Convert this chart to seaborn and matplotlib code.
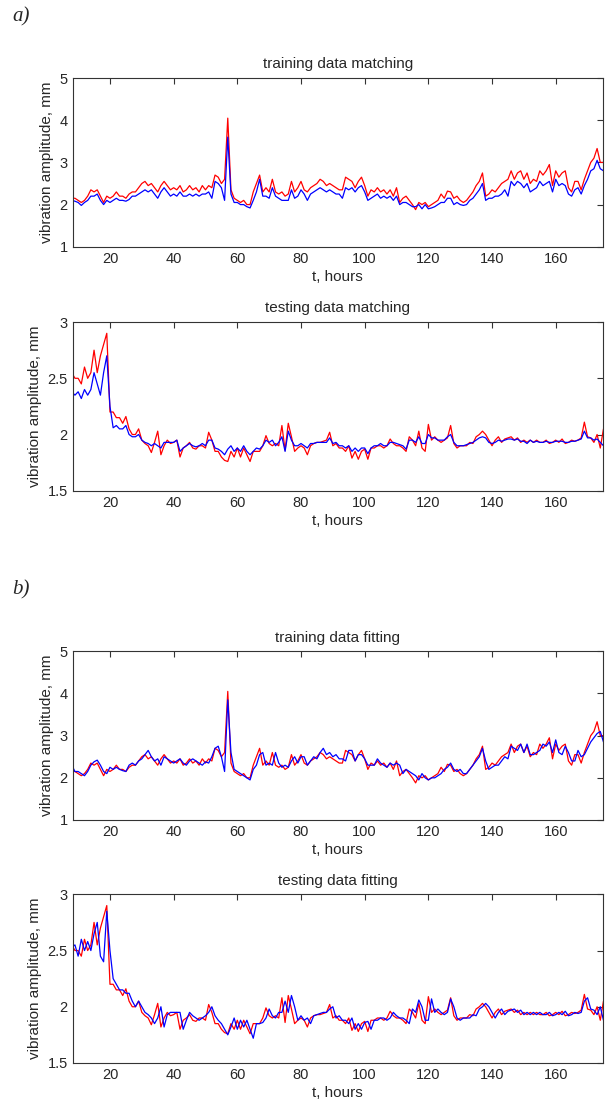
import matplotlib
matplotlib.use("Agg")
import matplotlib.pyplot as plt
import numpy as np
import seaborn as sns
import pandas as pd

# hours 8 .. 175
hours = list(range(8, 176))

# measured amplitude, training period (same curve in a) and b))
red_train = [
    2.15, 2.15, 2.1, 2.05, 2.1, 2.2, 2.35, 2.3, 2.35, 2.2,
    2.05, 2.2, 2.15, 2.2, 2.3, 2.2, 2.2, 2.15, 2.25, 2.3,
    2.3, 2.4, 2.5, 2.55, 2.45, 2.5, 2.4, 2.3, 2.45, 2.55,
    2.45, 2.35, 2.4, 2.35, 2.45, 2.3, 2.35, 2.45, 2.35, 2.4,
    2.3, 2.45, 2.35, 2.45, 2.4, 2.7, 2.65, 2.5, 2.6, 4.05,
    2.35, 2.15, 2.1, 2.05, 2.1, 2.0, 2.0, 2.3, 2.5, 2.7,
    2.3, 2.4, 2.3, 2.6, 2.3, 2.25, 2.3, 2.2, 2.25, 2.55,
    2.3, 2.4, 2.55, 2.35, 2.3, 2.4, 2.45, 2.5, 2.6, 2.55,
    2.45, 2.5, 2.45, 2.4, 2.35, 2.35, 2.65, 2.6, 2.55, 2.4,
    2.55, 2.65, 2.45, 2.2, 2.35, 2.3, 2.4, 2.3, 2.35, 2.25,
    2.35, 2.2, 2.4, 2.05, 2.15, 2.2, 2.1, 2.0, 1.88, 2.05,
    2.0, 2.05, 1.95, 2.0, 2.05, 2.1, 2.25, 2.15, 2.32, 2.3,
    2.15, 2.2, 2.1, 2.05, 2.1, 2.2, 2.3, 2.45, 2.55, 2.75,
    2.2, 2.25, 2.35, 2.3, 2.4, 2.5, 2.55, 2.6, 2.8, 2.6,
    2.75, 2.8, 2.6, 2.75, 2.5, 2.6, 2.55, 2.8, 2.7, 2.8,
    2.95, 2.45, 2.8, 2.65, 2.75, 2.8, 2.4, 2.3, 2.55, 2.55,
    2.35, 2.6, 2.8, 3.0, 3.1, 3.33, 3.0, 3.0,
]

blue_train_match = [
    2.1, 2.08, 2.05, 1.98, 2.05, 2.1, 2.2, 2.2, 2.25, 2.1,
    2.0, 2.1, 2.05, 2.1, 2.15, 2.1, 2.1, 2.08, 2.12, 2.2,
    2.2, 2.25, 2.3, 2.35, 2.3, 2.35, 2.25, 2.15, 2.3, 2.4,
    2.3, 2.2, 2.25, 2.2, 2.3, 2.2, 2.2, 2.25, 2.2, 2.25,
    2.2, 2.25, 2.25, 2.3, 2.15, 2.55, 2.5, 2.4, 2.1, 3.6,
    2.25, 2.05, 2.05, 2.0, 2.0, 1.95, 1.92, 2.1, 2.3, 2.6,
    2.2, 2.2, 2.15, 2.4, 2.2, 2.15, 2.1, 2.1, 2.1, 2.35,
    2.15, 2.2, 2.35, 2.25, 2.1, 2.25, 2.3, 2.35, 2.4, 2.35,
    2.3, 2.35, 2.3, 2.25, 2.25, 2.15, 2.4, 2.35, 2.4, 2.3,
    2.4, 2.45, 2.3, 2.1, 2.15, 2.2, 2.25, 2.15, 2.2, 2.15,
    2.2, 2.1, 2.2, 2.0, 2.05, 2.05, 2.0, 1.95, 1.95, 2.0,
    1.9, 2.0, 1.9, 1.92, 1.95, 2.0, 2.05, 2.05, 2.15, 2.15,
    2.0, 2.05, 2.0, 1.98, 2.0, 2.1, 2.15, 2.25, 2.35, 2.5,
    2.1, 2.15, 2.15, 2.2, 2.2, 2.25, 2.35, 2.2, 2.55, 2.45,
    2.55, 2.5, 2.4, 2.5, 2.3, 2.35, 2.4, 2.55, 2.45, 2.5,
    2.55, 2.3, 2.6, 2.45, 2.5, 2.45, 2.25, 2.2, 2.35, 2.4,
    2.25, 2.45, 2.6, 2.8, 2.85, 3.05, 2.85, 2.8,
]

blue_train_fit = [
    2.3, 2.15, 2.15, 2.1, 2.05, 2.15, 2.3, 2.38, 2.42, 2.3,
    2.15, 2.1, 2.25, 2.2, 2.25, 2.2, 2.17, 2.15, 2.3, 2.35,
    2.3, 2.4, 2.45, 2.55, 2.65, 2.5, 2.4, 2.45, 2.3, 2.5,
    2.45, 2.4, 2.35, 2.4, 2.45, 2.35, 2.3, 2.4, 2.45, 2.4,
    2.35, 2.3, 2.38, 2.35, 2.5, 2.7, 2.75, 2.5, 2.15, 3.85,
    2.6, 2.2, 2.15, 2.1, 2.05, 2.0, 1.95, 2.2, 2.3, 2.55,
    2.6, 2.3, 2.35, 2.3, 2.6, 2.35, 2.25, 2.3, 2.25, 2.4,
    2.5, 2.35, 2.5, 2.5, 2.3, 2.4, 2.5, 2.45, 2.6, 2.7,
    2.55, 2.6, 2.5, 2.55, 2.45, 2.45, 2.4, 2.65, 2.65, 2.4,
    2.55, 2.55, 2.45, 2.3, 2.3, 2.3, 2.45, 2.35, 2.3, 2.25,
    2.35, 2.3, 2.35, 2.3, 2.1, 2.2, 2.15, 2.1, 2.05, 1.95,
    2.1, 2.0, 1.95, 2.0, 2.0, 2.05, 2.1, 2.2, 2.25, 2.35,
    2.2, 2.15, 2.2, 2.1, 2.1, 2.2, 2.3, 2.4, 2.5, 2.7,
    2.4, 2.2, 2.25, 2.3, 2.3, 2.4, 2.5, 2.45, 2.75, 2.7,
    2.65, 2.8, 2.6, 2.8, 2.55, 2.55, 2.6, 2.65, 2.8, 2.75,
    2.85, 2.6, 2.9, 2.6, 2.55, 2.75, 2.6, 2.4, 2.4, 2.65,
    2.5, 2.55, 2.7, 2.85, 2.95, 3.05, 3.1, 2.85,
]

# measured amplitude, testing period (same curve in a) and b))
red_test = [
    2.55, 2.5, 2.5, 2.45, 2.6, 2.5, 2.55, 2.75, 2.55, 2.7,
    2.8, 2.9, 2.2, 2.2, 2.15, 2.15, 2.1, 2.16, 2.05, 2.0,
    2.0, 2.05, 1.95, 1.92, 1.9, 1.84, 1.93, 2.03, 1.82, 1.9,
    1.95, 1.92, 1.93, 1.95, 1.8, 1.88, 1.9, 1.93, 1.88, 1.87,
    1.9, 1.9, 1.88, 2.02, 1.95, 1.85, 1.85, 1.8, 1.77, 1.76,
    1.85, 1.8, 1.88, 1.8, 1.88, 1.82, 1.76, 1.85, 1.85, 1.85,
    1.9, 1.99, 1.92, 1.9, 1.92, 1.9, 2.08, 1.86, 2.1, 1.98,
    1.85, 1.88, 1.9, 1.88, 1.82, 1.9, 1.92, 1.93, 1.93, 1.94,
    1.95, 2.02, 1.9, 1.92, 1.88, 1.88, 1.85, 1.9, 1.79, 1.85,
    1.78, 1.85, 1.87, 1.78, 1.88, 1.88, 1.9, 1.9, 1.88, 1.9,
    1.96, 1.92, 1.9, 1.9, 1.88, 1.85, 1.98, 1.95, 1.9, 2.03,
    1.88, 1.85, 2.09, 1.95, 1.98, 1.95, 1.93, 1.95, 1.97, 2.08,
    1.92, 1.88, 1.9, 1.9, 1.9, 1.93, 1.92, 1.98, 2.0, 2.03,
    2.0, 1.95, 1.9, 1.95, 1.98, 1.93, 1.96, 1.97, 1.98, 1.95,
    1.97, 1.93, 1.95, 1.93, 1.95, 1.93, 1.95, 1.93, 1.93, 1.95,
    1.92, 1.93, 1.95, 1.93, 1.96, 1.92, 1.93, 1.95, 1.94, 1.95,
    1.97, 2.11, 1.98, 1.97, 1.93, 2.0, 1.88, 2.05,
]

blue_test_match = [
    2.38, 2.35, 2.38, 2.32, 2.4, 2.35, 2.4, 2.55, 2.45, 2.35,
    2.55, 2.7, 2.25, 2.06, 2.08, 2.05, 2.05, 2.08, 2.0, 1.98,
    1.98, 2.0, 1.95, 1.93, 1.92, 1.9, 1.92, 1.9, 1.88, 1.93,
    1.93, 1.93, 1.93, 1.95, 1.85, 1.88, 1.9, 1.92, 1.9, 1.89,
    1.9, 1.92, 1.9, 1.95, 1.95, 1.88, 1.87, 1.85, 1.82, 1.87,
    1.9, 1.85, 1.88, 1.85, 1.9, 1.85, 1.82, 1.85, 1.88, 1.87,
    1.9, 1.95, 1.93, 1.95, 1.9, 1.93, 1.98, 1.85, 2.03, 1.95,
    1.9, 1.9, 1.92, 1.9, 1.88, 1.92, 1.92, 1.93, 1.93, 1.93,
    1.93, 1.97, 1.92, 1.93, 1.9, 1.9, 1.88, 1.9, 1.85, 1.88,
    1.85, 1.88, 1.88, 1.83, 1.88, 1.9, 1.9, 1.92, 1.9, 1.9,
    1.93, 1.93, 1.92, 1.91, 1.9, 1.87, 1.95, 1.95, 1.93, 1.98,
    1.92, 1.92, 2.0, 1.97, 1.97, 1.95, 1.95, 1.95, 1.98, 2.0,
    1.93, 1.9, 1.9, 1.9, 1.91, 1.92, 1.93, 1.95, 1.97, 1.98,
    1.97, 1.93, 1.92, 1.93, 1.95, 1.94, 1.95, 1.96, 1.96, 1.95,
    1.96, 1.94, 1.94, 1.92, 1.95, 1.93, 1.94, 1.93, 1.93, 1.94,
    1.93, 1.93, 1.94, 1.94, 1.94, 1.93, 1.93, 1.94, 1.94, 1.95,
    1.96, 2.03, 1.97, 1.97, 1.95, 1.96, 1.93, 1.9,
]

blue_test_fit = [
    2.53, 2.55, 2.45, 2.6, 2.5, 2.58, 2.5, 2.65, 2.75, 2.45,
    2.4, 2.85, 2.5, 2.25, 2.2, 2.15, 2.15, 2.12, 2.12, 2.05,
    2.0, 2.05, 2.0, 1.95, 1.93, 1.9, 1.85, 1.9, 2.0, 1.82,
    1.93, 1.95, 1.95, 1.95, 1.95, 1.8, 1.88, 1.95, 1.92, 1.9,
    1.88, 1.9, 1.92, 1.95, 2.0, 1.92, 1.88, 1.85, 1.8, 1.75,
    1.82, 1.9, 1.8, 1.88, 1.82, 1.88, 1.8, 1.72, 1.85, 1.85,
    1.86, 1.9, 1.98, 1.92, 1.9, 1.95, 1.95, 2.05, 1.95, 2.1,
    2.0, 1.88, 1.92, 1.88, 1.9, 1.85, 1.92, 1.93, 1.94, 1.95,
    1.95, 1.98, 2.0, 1.9, 1.92, 1.88, 1.88, 1.85, 1.9, 1.8,
    1.85, 1.8, 1.86, 1.87, 1.8, 1.88, 1.88, 1.9, 1.9, 1.88,
    1.9, 1.95, 1.92, 1.9, 1.9, 1.88, 1.85, 1.98, 1.95, 2.06,
    2.0, 1.88, 1.88, 2.07, 1.95, 1.98, 1.95, 1.93, 1.95, 2.07,
    2.0, 1.9, 1.88, 1.9, 1.9, 1.9, 1.93, 1.92, 1.98, 2.0,
    2.03, 2.0, 1.95, 1.9, 1.95, 1.98, 1.93, 1.96, 1.97, 1.98,
    1.95, 1.97, 1.93, 1.95, 1.93, 1.95, 1.93, 1.95, 1.93, 1.93,
    1.95, 1.92, 1.93, 1.95, 1.93, 1.96, 1.92, 1.93, 1.95, 1.94,
    1.95, 2.05, 2.08, 1.98, 1.97, 1.93, 2.0, 1.88,
]

x_ticks = [20, 40, 60, 80, 100, 120, 140, 160]
train_yticks = [1, 2, 3, 4, 5]
train_ylabels = ["1", "2", "3", "4", "5"]
test_yticks = [1.5, 2, 2.5, 3]
test_ylabels = ["1.5", "2", "2.5", "3"]

titles = ["training data matching", "testing data matching",
          "training data fitting", "testing data fitting"]


def make_df(actual, model):
	df = pd.DataFrame({"t": hours * 2,
	                   "amp": actual + model,
	                   "series": ["actual"] * len(hours) + ["model"] * len(hours)})
	return df


def draw_panel(ax, df, title, yticks, ylabels):
	sns.lineplot(data=df, x="t", y="amp", hue="series", hue_order=["actual", "model"],
	             palette={"actual": "#ff0000", "model": "#0000ff"},
	             estimator=None, linewidth=0.9, legend=False, ax=ax)
	ax.set_xlim(8.3, 174.8)
	ax.set_ylim(yticks[0], yticks[-1])
	ax.set_xticks(x_ticks)
	ax.set_xticklabels([str(v) for v in x_ticks])
	ax.set_yticks(yticks)
	ax.set_yticklabels(ylabels)
	ax.tick_params(direction="in", top=True, right=True, length=4, width=0.8,
	               labelsize=10.5, color="#333333")
	for sp in ax.spines.values():
		sp.set_visible(True)
		sp.set_color("#333333")
		sp.set_linewidth(0.8)
	ax.set_title(title, fontsize=11, pad=7)
	ax.set_xlabel("t, hours", fontsize=11, labelpad=3)
	ax.set_ylabel("vibration amplitude, mm", fontsize=11, labelpad=4)


def main():
	sns.set_style("white")
	plt.rcParams['font.family'] = ['Liberation Sans', 'DejaVu Sans']

	fig = plt.figure(figsize=(6.08, 11.06), dpi=100)
	left, width, height = 0.1196, 0.8719, 0.1525
	bottoms = [0.7769, 0.5563, 0.2586, 0.0389]
	panels = [(red_train, blue_train_match, train_yticks, train_ylabels),
	          (red_test, blue_test_match, test_yticks, test_ylabels),
	          (red_train, blue_train_fit, train_yticks, train_ylabels),
	          (red_test, blue_test_fit, test_yticks, test_ylabels)]
	for i, (actual, model, yt, yl) in enumerate(panels):
		ax = fig.add_axes([left, bottoms[i], width, height])
		draw_panel(ax, make_df(actual, model), titles[i], yt, yl)

	fig.text(0.02, 0.9846, "a)", fontsize=15, style="italic",
	         family=["Liberation Serif", "DejaVu Serif"], va="center")
	fig.text(0.02, 0.4665, "b)", fontsize=15, style="italic",
	         family=["Liberation Serif", "DejaVu Serif"], va="center")

	fig.savefig("out.png", dpi=100)


if __name__ == "__main__":
	main()
